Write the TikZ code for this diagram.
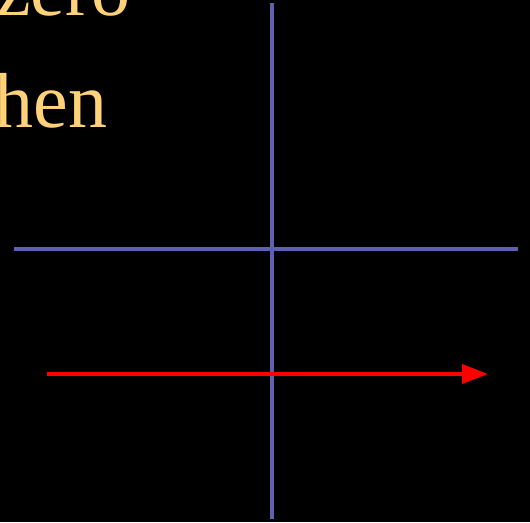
\documentclass[tikz,border=0pt]{standalone}
\usepackage{fontspec}
\setmainfont{Liberation Serif}
\usetikzlibrary{arrows.meta}
\definecolor{axisblue}{RGB}{96,96,176}
\definecolor{textgold}{RGB}{255,210,122}
\begin{document}
\begin{tikzpicture}[x=1pt, y=-1pt,
      axis/.style={axisblue, line width=3.5pt},
      motion/.style={red, line width=4pt, -{Triangle[length=26pt, width=19pt]}},
      words/.style={textgold, font=\fontsize{78}{90}\selectfont, inner sep=0pt, anchor=base west},
   ]
   % Frame
   \fill[black] (0,0) rectangle (530,522);
   \useasboundingbox (0,0) rectangle (530,522);
   \clip (0,0) rectangle (530,522);

   % Cropped text lines
   \node[words] (zero) at (-4,15) {zero};
   \node[words] (then) at (-27,127) {then};

   % Axes
   \coordinate (ytop) at (272,3);
   \coordinate (ybot) at (272,519);
   \coordinate (xleft) at (14,249);
   \coordinate (xright) at (518,249);
   \draw[axis] (ytop) -- (ybot);
   \draw[axis] (xleft) -- (xright);

   % Red arrow
   \coordinate (vstart) at (47,374);
   \coordinate (vend) at (488,374);
   \draw[motion] (vstart) -- (vend);
\end{tikzpicture}
\end{document}
